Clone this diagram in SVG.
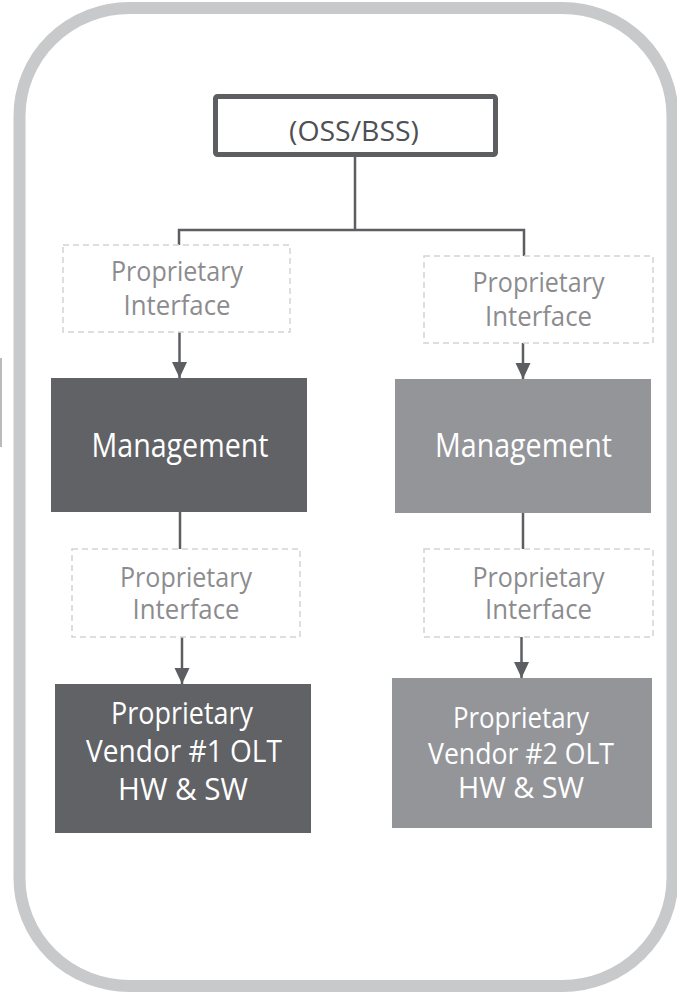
<svg xmlns="http://www.w3.org/2000/svg" width="677" height="996" viewBox="0 0 677 996">
  <defs>
    <!-- arrowhead drawn along +x; auto orientation turns it to the line direction -->
    <marker id="arrow" markerUnits="userSpaceOnUse" markerWidth="17" markerHeight="16" refX="16" refY="8" orient="auto" viewBox="0 0 17 16">
      <path d="M0 0.5 L16 8 L0 15.5 Z" fill="#5d5e62"/>
    </marker>
    <style>
      .frame { fill: #ffffff; stroke: #c8c9ca; stroke-width: 12; }
      .top { fill: #ffffff; stroke: #5d5e62; stroke-width: 5; }
      .iface { fill: none; stroke: #d4d4d5; stroke-width: 1.5; stroke-dasharray: 6 4; }
      .dark { fill: #616266; }
      .light { fill: #949599; }
      .link { fill: none; stroke: #5d5e62; stroke-width: 2.5; }
      text { font-family: "Open Sans", "Noto Sans", "DejaVu Sans", sans-serif; text-anchor: middle; }
      .t-top { font-size: 27px; fill: #4f5054; }
      .t-iface { font-size: 27px; fill: #8c8c8f; }
      .t-box { fill: #ffffff; }
    </style>
  </defs>

  <rect width="677" height="996" fill="#ffffff"/>

  <!-- outer rounded frame -->
  <rect class="frame" x="19.5" y="8" width="653" height="978" rx="110" ry="108"/>
  <line x1="1" y1="358" x2="1" y2="447" stroke="#a3a3a5" stroke-width="1.5"/>

  <!-- connectors -->
  <g id="connectors">
    <path class="link" d="M355 157 V230 M179 230 H524 M179 228.8 V245 M524 228.8 V256"/>
    <path class="link" d="M179.5 332 V378" marker-end="url(#arrow)"/>
    <path class="link" d="M523 343 V379" marker-end="url(#arrow)"/>
    <path class="link" d="M180 512 V549"/>
    <path class="link" d="M523 513 V549"/>
    <path class="link" d="M182 637 V684" marker-end="url(#arrow)"/>
    <path class="link" d="M521.5 637 V678" marker-end="url(#arrow)"/>
  </g>

  <!-- OSS/BSS -->
  <g id="oss-bss">
    <rect class="top" x="215.5" y="96.5" width="280" height="58" rx="2"/>
    <text class="t-top" x="354" y="141" textLength="130" lengthAdjust="spacingAndGlyphs">(OSS/BSS)</text>
  </g>

  <!-- vendor 1 column -->
  <g id="iface-1a">
    <rect class="iface" x="63" y="245" width="227" height="87"/>
    <text class="t-iface" x="177" y="281" textLength="132" lengthAdjust="spacingAndGlyphs">Proprietary</text>
    <text class="t-iface" x="177" y="315" textLength="107" lengthAdjust="spacingAndGlyphs">Interface</text>
  </g>
  <g id="mgmt-1">
    <rect class="dark" x="51" y="378" width="256" height="134"/>
    <text class="t-box" x="180" y="457" font-size="32" textLength="177" lengthAdjust="spacingAndGlyphs">Management</text>
  </g>
  <g id="iface-1b">
    <rect class="iface" x="72" y="549" width="228" height="88"/>
    <text class="t-iface" x="186" y="587" textLength="132" lengthAdjust="spacingAndGlyphs">Proprietary</text>
    <text class="t-iface" x="186" y="619" textLength="107" lengthAdjust="spacingAndGlyphs">Interface</text>
  </g>
  <g id="olt-1">
    <rect class="dark" x="55" y="684" width="256" height="149"/>
    <text class="t-box" x="182" y="724" font-size="31" textLength="142" lengthAdjust="spacingAndGlyphs">Proprietary</text>
    <text class="t-box" x="184" y="762" font-size="31" textLength="196" lengthAdjust="spacingAndGlyphs">Vendor #1 OLT</text>
    <text class="t-box" x="183" y="800" font-size="31" textLength="130" lengthAdjust="spacingAndGlyphs">HW &amp; SW</text>
  </g>

  <!-- vendor 2 column -->
  <g id="iface-2a">
    <rect class="iface" x="424" y="256" width="229" height="87"/>
    <text class="t-iface" x="538.5" y="292" textLength="132" lengthAdjust="spacingAndGlyphs">Proprietary</text>
    <text class="t-iface" x="538.5" y="326" textLength="107" lengthAdjust="spacingAndGlyphs">Interface</text>
  </g>
  <g id="mgmt-2">
    <rect class="light" x="395" y="379" width="256" height="134"/>
    <text class="t-box" x="523.5" y="457" font-size="32" textLength="177" lengthAdjust="spacingAndGlyphs">Management</text>
  </g>
  <g id="iface-2b">
    <rect class="iface" x="424" y="549" width="229" height="88"/>
    <text class="t-iface" x="538.5" y="587" textLength="132" lengthAdjust="spacingAndGlyphs">Proprietary</text>
    <text class="t-iface" x="538.5" y="619" textLength="107" lengthAdjust="spacingAndGlyphs">Interface</text>
  </g>
  <g id="olt-2">
    <rect class="light" x="392" y="678" width="260" height="150"/>
    <text class="t-box" x="521" y="728" font-size="29" textLength="136" lengthAdjust="spacingAndGlyphs">Proprietary</text>
    <text class="t-box" x="521" y="764" font-size="29" textLength="186" lengthAdjust="spacingAndGlyphs">Vendor #2 OLT</text>
    <text class="t-box" x="521" y="798" font-size="29" textLength="126" lengthAdjust="spacingAndGlyphs">HW &amp; SW</text>
  </g>
</svg>
